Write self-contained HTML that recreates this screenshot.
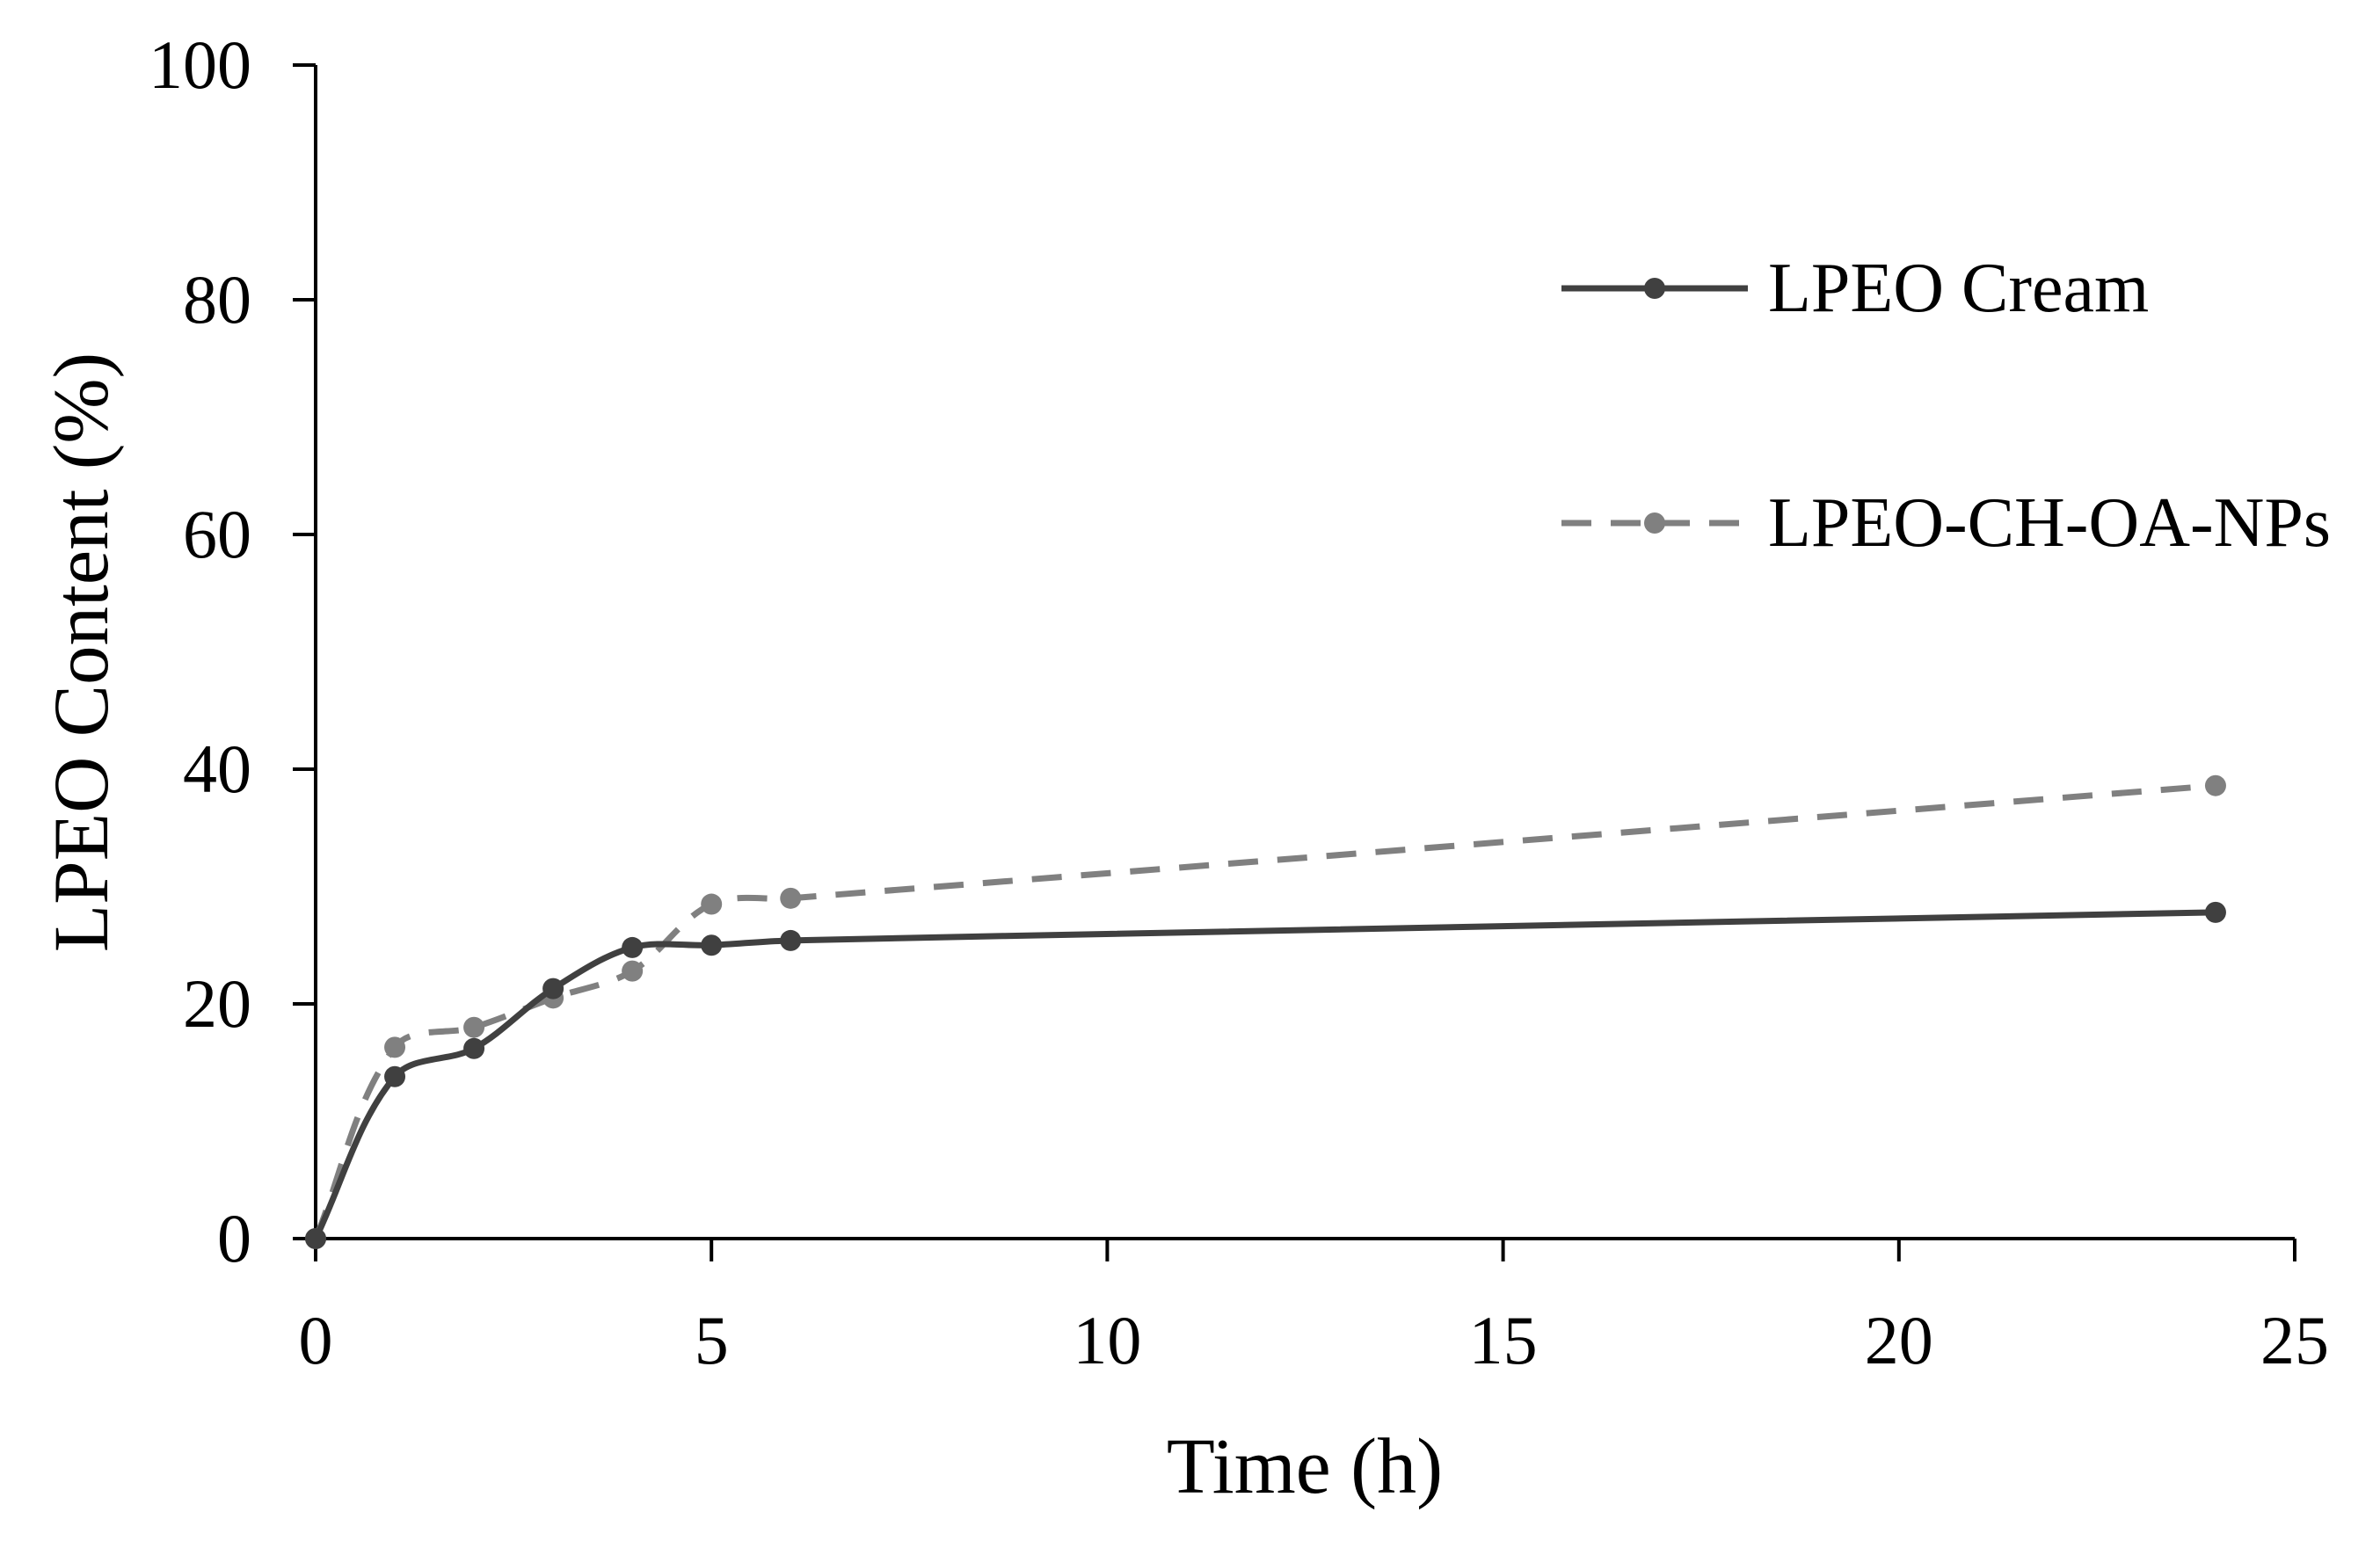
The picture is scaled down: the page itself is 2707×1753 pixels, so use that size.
<!DOCTYPE html>
<html><head><meta charset="utf-8"><style>
html,body{margin:0;padding:0;background:#fff;}
svg text{font-family:"Liberation Serif",serif;fill:#000;}
</style></head><body>
<svg id="chart" width="2707" height="1748" viewBox="0 0 2707 1748" xmlns="http://www.w3.org/2000/svg">
<g id="axes"></g>
<g id="series"></g>
<g id="legend">
  <line x1="1776" y1="328" x2="1988" y2="328" stroke="#404040" stroke-width="7"/>
  <circle cx="1882" cy="328" r="12" fill="#404040"/>
  <text x="2011" y="354" font-size="80">LPEO Cream</text>
  <line x1="1776" y1="595" x2="1988" y2="595" stroke="#808080" stroke-width="7" stroke-dasharray="34,22"/>
  <circle cx="1882" cy="595" r="12" fill="#808080"/>
  <text x="2011" y="621" font-size="80">LPEO-CH-OA-NPs</text>
</g>
<text x="1484" y="1698" font-size="90" text-anchor="middle">Time (h)</text>
<text transform="translate(122,742) rotate(-90)" font-size="89" text-anchor="middle">LPEO Content (%)</text>
</svg>
<script>
const timeHours = [0, 1, 2, 3, 4, 5, 6, 24];
const creamValues = [0, 13.8, 16.2, 21.3, 24.8, 25.0, 25.4, 27.8];
const npsValues = [0, 16.3, 18.0, 20.5, 22.8, 28.5, 29.0, 38.6];
const xTicks = [0, 5, 10, 15, 20, 25];
const yTicks = [0, 20, 40, 60, 80, 100];

const NS = "http://www.w3.org/2000/svg";
const X0 = 359, X1 = 2610, Y0 = 1409, Y1 = 74;
function xs(v){ return X0 + (v - 0) / 25 * (X1 - X0); }
function ys(v){ return Y0 - (v - 0) / 100 * (Y0 - Y1); }
function mk(tag, attrs, parent){
  const e = document.createElementNS(NS, tag);
  for (const k in attrs) e.setAttribute(k, attrs[k]);
  parent.appendChild(e);
  return e;
}
const axes = document.getElementById('axes');
const yAxis = mk('line', {x1:X0, y1:Y1, x2:X0, y2:Y0, stroke:'#000', 'stroke-width':4}, axes);


const xAxis = mk('line', {x1:X0, y1:Y0, x2:X1, y2:Y0, stroke:'#000', 'stroke-width':4}, axes);


yTicks.forEach(t => {
  const y = ys(t);
  const tk = mk('line', {x1:X0-26, y1:y, x2:X0, y2:y, stroke:'#000', 'stroke-width':4}, axes);
  
  
  const lb = mk('text', {x:X0-73, y:y+26, 'font-size':78, 'text-anchor':'end'}, axes);
  lb.textContent = t;
  
  
});
xTicks.forEach(t => {
  const x = xs(t);
  const tk = mk('line', {x1:x, y1:Y0, x2:x, y2:Y0+26, stroke:'#000', 'stroke-width':4}, axes);
  
  
  const lb = mk('text', {x:x, y:Y0+142, 'font-size':78, 'text-anchor':'middle'}, axes);
  lb.textContent = t;
  
  
});
function smoothPath(pts){
  let d = 'M' + pts[0][0] + ',' + pts[0][1];
  function tan(i){
    const a = pts[i-1] || pts[i], b = pts[i+1] || pts[i];
    const dx = b[0]-a[0], dy = b[1]-a[1], L = Math.hypot(dx,dy) || 1;
    return [dx/L, dy/L];
  }
  for (let i = 0; i < pts.length - 1; i++){
    const p1 = pts[i], p2 = pts[i+1];
    const seg = Math.hypot(p2[0]-p1[0], p2[1]-p1[1]) / 3;
    const t1 = tan(i), t2 = tan(i+1);
    const c1x = p1[0] + t1[0]*seg, c1y = p1[1] + t1[1]*seg;
    const c2x = p2[0] - t2[0]*seg, c2y = p2[1] - t2[1]*seg;
    d += ' C' + c1x + ',' + c1y + ' ' + c2x + ',' + c2y + ' ' + p2[0] + ',' + p2[1];
  }
  return d;
}
const series = document.getElementById('series');
function drawSeries(vals, color, dash, name){
  const pts = timeHours.map((h,i) => [xs(h), ys(vals[i])]);
  const attrs = {d:smoothPath(pts), fill:'none', stroke:color, 'stroke-width':7, 'stroke-linejoin':'round'};
  if (dash) attrs['stroke-dasharray'] = dash;
  const p = mk('path', attrs, series);
  
  
  pts.forEach(pt => {
    const c = mk('circle', {cx:pt[0], cy:pt[1], r:12, fill:color}, series);
    
    
  });
}
drawSeries(npsValues, '#808080', '34,22', 'nps');
drawSeries(creamValues, '#404040', null, 'cream');
</script>
</body></html>
